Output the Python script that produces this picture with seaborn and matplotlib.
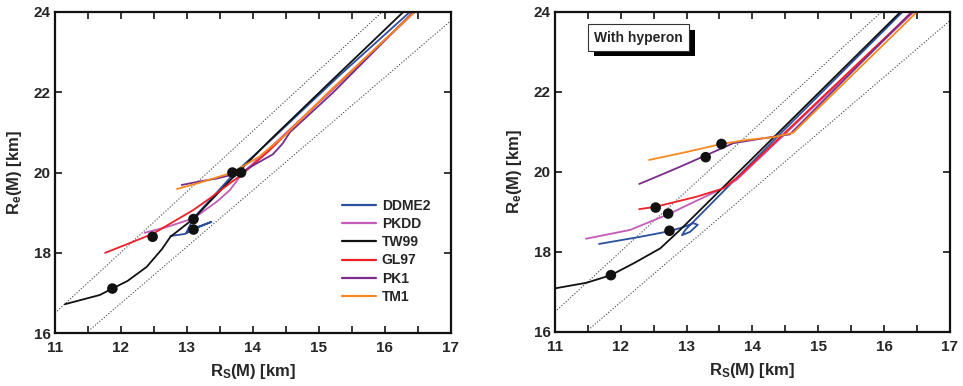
import numpy as np
import pandas as pd
import matplotlib
matplotlib.use("Agg")
import matplotlib.pyplot as plt
import matplotlib.patheffects as pe
import seaborn as sns

# ---- data ----
eos_names = ['DDME2', 'PKDD', 'TW99', 'GL97', 'PK1', 'TM1']
eos_colors = ['#2b4f9f', '#c55bb9', '#111111', '#ee1f26', '#7a2c8c', '#f7891f']

# dotted guide lines
guide_hi_rs = [11.0, 15.96]
guide_hi_re = [16.5, 24.0]
guide_lo_rs = [11.47, 17.0]
guide_lo_re = [16.0, 23.78]

# left panel: nucleonic matter
nh_ddme2_rs = [12.75, 12.97, 13.12, 13.37, 13.12, 12.99, 13.05, 13.12, 13.70, 14.30, 15.30, 16.38]
nh_ddme2_re = [18.42, 18.47, 18.60, 18.77, 18.62, 18.50, 18.70, 18.90, 19.95, 20.85, 22.40, 24.00]
nh_pkdd_rs = [12.36, 12.69, 13.10, 13.45, 13.65, 13.84, 14.30, 15.17, 16.45]
nh_pkdd_re = [18.50, 18.64, 18.86, 19.27, 19.56, 19.98, 20.68, 22.00, 24.00]
nh_tw99_rs = [11.15, 11.68, 11.87, 12.10, 12.39, 12.62, 12.75, 13.10, 13.70, 14.26, 15.20, 16.28]
nh_tw99_re = [16.72, 16.95, 17.11, 17.30, 17.65, 18.09, 18.40, 18.85, 19.88, 20.81, 22.30, 24.00]
nh_gl97_rs = [11.76, 12.10, 12.49, 13.10, 13.35, 13.65, 13.84, 14.25, 15.15, 16.45]
nh_gl97_re = [18.00, 18.22, 18.48, 19.07, 19.36, 19.73, 19.96, 20.55, 22.00, 24.00]
nh_pk1_rs = [12.92, 13.20, 13.45, 13.82, 14.05, 14.30, 14.45, 14.56, 15.22, 16.43]
nh_pk1_re = [19.69, 19.78, 19.85, 20.00, 20.22, 20.45, 20.72, 21.00, 22.00, 24.00]
nh_tm1_rs = [12.85, 13.20, 13.69, 14.10, 14.50, 15.15, 16.45]
nh_tm1_re = [19.59, 19.75, 20.00, 20.40, 20.95, 22.00, 24.00]

# right panel: with hyperons
hy_ddme2_rs = [11.67, 12.30, 12.74, 12.95, 13.10, 13.17, 13.05, 12.93, 12.98, 13.10, 14.39, 16.28]
hy_ddme2_re = [18.20, 18.38, 18.52, 18.62, 18.72, 18.68, 18.50, 18.42, 18.55, 18.75, 20.90, 24.00]
hy_pkdd_rs = [11.47, 12.14, 12.72, 13.15, 13.50, 13.76, 16.45]
hy_pkdd_re = [18.33, 18.55, 18.94, 19.28, 19.55, 19.80, 24.00]
hy_tw99_rs = [11.00, 11.48, 11.85, 12.20, 12.60, 12.90, 16.25]
hy_tw99_re = [17.09, 17.23, 17.42, 17.72, 18.09, 18.55, 24.00]
hy_gl97_rs = [12.28, 12.53, 13.15, 13.56, 13.80, 16.43]
hy_gl97_re = [19.07, 19.13, 19.38, 19.59, 19.90, 24.00]
hy_pk1_rs = [12.28, 12.60, 12.90, 13.30, 13.71, 14.16, 14.57, 16.42]
hy_pk1_re = [19.70, 19.92, 20.13, 20.42, 20.72, 20.84, 20.94, 24.00]
hy_tm1_rs = [12.43, 13.00, 13.53, 13.91, 14.32, 14.62, 16.50]
hy_tm1_re = [20.30, 20.50, 20.70, 20.80, 20.87, 20.98, 24.00]

# maximum-mass points
nh_dot_rs = [11.87, 12.48, 13.10, 13.10, 13.69, 13.82]
nh_dot_re = [17.11, 18.40, 18.84, 18.58, 20.00, 20.00]
hy_dot_rs = [11.85, 12.53, 12.72, 12.74, 13.29, 13.53]
hy_dot_re = [17.42, 19.11, 18.96, 18.53, 20.37, 20.70]


def long_form(curves):
    frames = []
    for name, (rs, re_) in zip(eos_names, curves):
        frames.append(pd.DataFrame({'Rs': rs, 'Re': re_, 'EOS': name}))
    return pd.concat(frames, ignore_index=True)


df_nh = long_form([(nh_ddme2_rs, nh_ddme2_re), (nh_pkdd_rs, nh_pkdd_re),
                   (nh_tw99_rs, nh_tw99_re), (nh_gl97_rs, nh_gl97_re),
                   (nh_pk1_rs, nh_pk1_re), (nh_tm1_rs, nh_tm1_re)])
df_hy = long_form([(hy_ddme2_rs, hy_ddme2_re), (hy_pkdd_rs, hy_pkdd_re),
                   (hy_tw99_rs, hy_tw99_re), (hy_gl97_rs, hy_gl97_re),
                   (hy_pk1_rs, hy_pk1_re), (hy_tm1_rs, hy_tm1_re)])

sns.set_theme(style='ticks')
plt.rcParams['font.family'] = ['Liberation Sans', 'DejaVu Sans']
plt.rcParams['font.weight'] = 'bold'
plt.rcParams['axes.labelweight'] = 'bold'
plt.rcParams['mathtext.fontset'] = 'custom'
plt.rcParams['mathtext.rm'] = 'Liberation Sans:bold'
plt.rcParams['mathtext.default'] = 'rm'

fig = plt.figure(figsize=(9.63, 3.86), dpi=100)
ax1 = fig.add_axes([0.0571, 0.137, 0.411, 0.832])
ax2 = fig.add_axes([0.5763, 0.140, 0.410, 0.829])

palette = dict(zip(eos_names, eos_colors))

for ax, df, drs, dre in [(ax1, df_nh, nh_dot_rs, nh_dot_re),
                         (ax2, df_hy, hy_dot_rs, hy_dot_re)]:
    ax.plot(guide_hi_rs, guide_hi_re, ls=':', color='0.25', lw=0.8)
    ax.plot(guide_lo_rs, guide_lo_re, ls=':', color='0.25', lw=0.8)
    sns.lineplot(data=df, x='Rs', y='Re', hue='EOS', hue_order=eos_names,
                 palette=palette, sort=False, estimator=None, units='EOS',
                 lw=1.3, ax=ax, legend=(ax is ax1))
    sns.scatterplot(x=drs, y=dre, color='#111111', s=58, edgecolor='none',
                    zorder=5, ax=ax)

    ax.set_xlim(11, 17)
    ax.set_ylim(16, 24)
    ax.set_xticks(np.arange(11, 17.1, 1))
    ax.set_xticks(np.arange(11.5, 17, 1), minor=True)
    ax.set_yticks(np.arange(16, 24.1, 2))
    ax.tick_params(which='both', direction='in', top=True, right=True,
                   length=5, width=1.3, labelsize=11)
    ax.tick_params(axis='x', pad=6)
    ax.tick_params(axis='y', pad=3)
    for lab in ax.get_xticklabels() + ax.get_yticklabels():
        lab.set_fontweight('bold')
    for sp in ax.spines.values():
        sp.set_linewidth(1.6)
        sp.set_color('#111111')
    ax.set_xlabel(r'R$_{S}$(M) [km]', fontsize=12, labelpad=5)
    ax.set_ylabel(r'R$_{e}$(M) [km]', fontsize=12, labelpad=7)

leg = ax1.legend(loc='upper left', bbox_to_anchor=(0.724, 0.418), frameon=False,
                 borderpad=0, borderaxespad=0, handlelength=2.5,
                 handletextpad=0.4, labelspacing=0.3,
                 prop={'weight': 'bold', 'size': 10})
for line in leg.get_lines():
    line.set_linewidth(1.6)

txt = ax2.text(0.212, 0.92, 'With hyperon', transform=ax2.transAxes,
               ha='center', va='center', fontsize=10, fontweight='bold',
               bbox=dict(boxstyle='square,pad=0.45', fc='white', ec='#333333', lw=0.8))
txt.get_bbox_patch().set_path_effects([
    pe.SimplePatchShadow(offset=(4, -4), shadow_rgbFace='black', alpha=1.0),
    pe.Normal()])

fig.savefig('out.png', dpi=100)
